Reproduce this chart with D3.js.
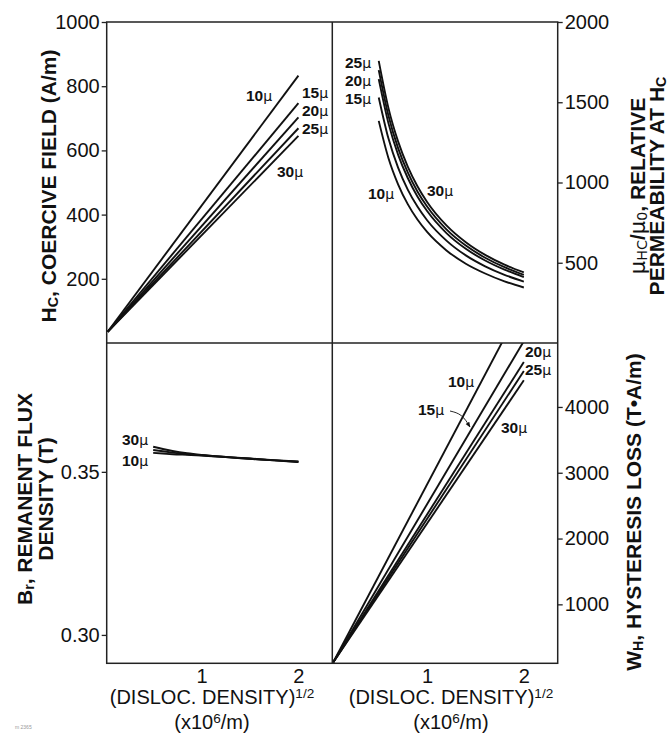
<!DOCTYPE html>
<html>
<head>
<meta charset="utf-8">
<script src="https://cdn.jsdelivr.net/npm/d3@7"></script>
<style>
  html, body { margin: 0; padding: 0; background: #fff; }
  svg { display: block; }
  text { font-family: "Liberation Sans", Arial, Helvetica, sans-serif; fill: #111; }
</style>
</head>
<body>
<svg id="chart" width="669" height="736"></svg>
<script>
// ---- data ----------------------------------------------------------------
// grain sizes shown in each panel
const grainSizes = ["10", "15", "20", "25", "30"];

// coercive field Hc (A/m): straight lines, values at the two ends
const hcX = [0.03, 2.0];
const hcValues = {
  "10": [35, 833],
  "15": [35, 747],
  "20": [35, 703],
  "25": [35, 669],
  "30": [35, 645]
};

// relative permeability at Hc
const muX = [0.5, 0.6, 0.7, 0.8, 0.9, 1.0, 1.2, 1.4, 1.6, 1.8, 2.0];
const muValues = {
  "10": [1384, 1153, 989, 865, 769, 692, 577, 494, 433, 384, 346],
  "15": [1530, 1275, 1093, 956, 850, 765, 638, 546, 478, 425, 383],
  "20": [1644, 1370, 1174, 1028, 913, 822, 685, 587, 514, 457, 411],
  "25": [1758, 1465, 1256, 1099, 977, 879, 733, 628, 549, 488, 440],
  "30": [1700, 1417, 1214, 1063, 944, 850, 708, 607, 531, 472, 425]
};

// remanent flux density Br (T)
const brX = [0.5, 0.6, 0.7, 0.85, 1.0, 1.25, 1.5, 1.75, 2.0];
const brValues = {
  "10": [0.3558, 0.3556, 0.3554, 0.3552, 0.3550, 0.3545, 0.3540, 0.3535, 0.3530],
  "20": [0.3567, 0.3563, 0.3559, 0.3554, 0.3551, 0.3545, 0.3540, 0.3535, 0.3531],
  "30": [0.3577, 0.3570, 0.3564, 0.3557, 0.3552, 0.3546, 0.3541, 0.3536, 0.3532]
};

// hysteresis loss Wh (T·A/m): straight lines, values at the two ends
const whX = [0.03, 2.0];
const whValues = {
  "10": [120, 5609],
  "15": [120, 5000],
  "20": [120, 4683],
  "25": [120, 4547],
  "30": [120, 4405]
};

// tick labels
const xTicks = [1, 2];
const hcTicks = [200, 400, 600, 800, 1000];
const muTicks = [500, 1000, 1500, 2000];
const brTicks = [0.30, 0.35];
const whTicks = [1000, 2000, 3000, 4000];

// ---- layout --------------------------------------------------------------
const L = 106.7, M = 332.3, R = 557.7;
const T = 22, H = 343, B = 663.3;

const svg = d3.select("#chart");

const xLeft = d3.scaleLinear().domain([0.02, 2.35]).range([L, M]);
const xRight = d3.scaleLinear().domain([0.02, 2.35]).range([M, R]);
const yHc = d3.scaleLinear().domain([0, 1000]).range([H, T]);
const yMu = d3.scaleLinear().domain([0, 2000]).range([H, T]);
const yBr = d3.scaleLinear().domain([0.2913, 0.3895]).range([B, H]);
const yWh = d3.scaleLinear().domain([104, 4972]).range([B, H]);

// clip regions for the four panels
const defs = svg.append("defs");
[["clipTL", L, T, M - L, H - T], ["clipTR", M, T, R - M, H - T],
 ["clipBL", L, H, M - L, B - H], ["clipBR", M, H, R - M, B - H]].forEach(([id, x, y, w, h]) => {
  defs.append("clipPath").attr("id", id).append("rect")
    .attr("x", x).attr("y", y).attr("width", w).attr("height", h);
});
defs.append("marker").attr("id", "arrow").attr("viewBox", "0 0 10 10")
  .attr("refX", 9).attr("refY", 5).attr("markerWidth", 6).attr("markerHeight", 6)
  .attr("orient", "auto")
  .append("path").attr("d", "M0,1 L10,5 L0,9 Z").attr("fill", "#111");

function drawSeries(xs, valuesBy, xScale, yScale, clipId, curve) {
  const line = d3.line().x(d => xScale(d[0])).y(d => yScale(d[1])).curve(curve);
  const g = svg.append("g").attr("clip-path", `url(#${clipId})`);
  Object.keys(valuesBy).forEach(k => {
    const pts = xs.map((x, i) => [x, valuesBy[k][i]]);
    g.append("path").attr("d", line(pts))
      .attr("fill", "none").attr("stroke", "#111").attr("stroke-width", 1.9);
  });
}

drawSeries(hcX, hcValues, xLeft, yHc, "clipTL", d3.curveLinear);
drawSeries(muX, muValues, xRight, yMu, "clipTR", d3.curveMonotoneX);
drawSeries(brX, brValues, xLeft, yBr, "clipBL", d3.curveMonotoneX);
drawSeries(whX, whValues, xRight, yWh, "clipBR", d3.curveLinear);

// ---- frame ----------------------------------------------------------------
const frame = svg.append("g").attr("fill", "none").attr("stroke", "#222").attr("stroke-width", 1.5);
frame.append("rect").attr("x", L).attr("y", T).attr("width", R - L).attr("height", B - T);
frame.append("line").attr("x1", M).attr("x2", M).attr("y1", T).attr("y2", B);
frame.append("line").attr("x1", L).attr("x2", R).attr("y1", H).attr("y2", H);

// ---- axes -----------------------------------------------------------------
function styleAxis(g) {
  g.select(".domain").remove();
  g.selectAll(".tick line").attr("stroke", "#222").attr("stroke-width", 1.3);
  g.selectAll(".tick text").attr("font-size", 20)
    .attr("font-family", "'Liberation Sans', Arial, sans-serif").attr("fill", "#111");
}

svg.append("g").attr("transform", `translate(${L},0)`)
  .call(d3.axisLeft(yHc).tickValues(hcTicks).tickFormat(d3.format("d")).tickSize(5).tickPadding(2))
  .call(styleAxis);
svg.append("g").attr("transform", `translate(${L},0)`)
  .call(d3.axisLeft(yBr).tickValues(brTicks).tickFormat(d3.format(".2f")).tickSize(5).tickPadding(2))
  .call(styleAxis);
svg.append("g").attr("transform", `translate(${R},0)`)
  .call(d3.axisRight(yMu).tickValues(muTicks).tickFormat(d3.format("d")).tickSize(5).tickPadding(2))
  .call(styleAxis);
svg.append("g").attr("transform", `translate(${R},0)`)
  .call(d3.axisRight(yWh).tickValues(whTicks).tickFormat(d3.format("d")).tickSize(5).tickPadding(2))
  .call(styleAxis);
svg.append("g").attr("transform", `translate(0,${B})`)
  .call(d3.axisBottom(xLeft).tickValues(xTicks).tickFormat(d3.format("d")).tickSize(0).tickPadding(6))
  .call(styleAxis);
svg.append("g").attr("transform", `translate(0,${B})`)
  .call(d3.axisBottom(xRight).tickValues(xTicks).tickFormat(d3.format("d")).tickSize(0).tickPadding(6))
  .call(styleAxis);

// ---- axis titles ----------------------------------------------------------
// parts: [text, kind] where kind is "n" normal, "sub", "sup", "mu" (light greek)
function richText(sel, parts, size) {
  parts.forEach(([t, kind]) => {
    const ts = sel.append("tspan").text(t);
    if (kind === "sub") ts.attr("font-size", size * 0.68).attr("baseline-shift", "-12%");
    if (kind === "sup") ts.attr("font-size", size * 0.68).attr("baseline-shift", "45%");
    if (kind === "mu") ts.attr("font-weight", "normal").attr("font-family", "'DejaVu Sans', sans-serif");
    if (kind === "musub") ts.attr("font-weight", "normal").attr("font-size", size * 0.68)
      .attr("font-family", "'DejaVu Sans', sans-serif").attr("baseline-shift", "-12%");
  });
}

function vTitle(x, y, parts, size, weight) {
  const t = svg.append("text")
    .attr("transform", `translate(${x},${y}) rotate(-90)`)
    .attr("text-anchor", "middle").attr("font-size", size).attr("font-weight", weight);
  richText(t, parts, size);
}

vTitle(56, 186, [["H", "n"], ["C", "sub"], [", COERCIVE FIELD (A/m)", "n"]], 21, "bold");
vTitle(32, 499, [["B", "n"], ["r", "sub"], [", REMANENT FLUX", "n"]], 21, "bold");
vTitle(53, 499, [["DENSITY (T)", "n"]], 21, "bold");
vTitle(645, 186, [["μ", "mu"], ["HC", "musub"], ["/", "n"], ["μ", "mu"], ["0", "musub"], [", RELATIVE", "n"]], 21, "bold");
vTitle(664, 186, [["PERMEABILITY AT H", "n"], ["C", "sub"]], 21, "bold");
vTitle(641, 512, [["W", "n"], ["H", "sub"], [", HYSTERESIS LOSS (T•A/m)", "n"]], 21, "bold");

function xTitle(cx) {
  const t1 = svg.append("text").attr("x", cx).attr("y", 704)
    .attr("text-anchor", "middle").attr("font-size", 20);
  richText(t1, [["(DISLOC. DENSITY)", "n"], ["1/2", "sup"]], 20);
  const t2 = svg.append("text").attr("x", cx).attr("y", 729)
    .attr("text-anchor", "middle").attr("font-size", 20);
  richText(t2, [["(x10", "n"], ["6", "sup"], ["/m)", "n"]], 20);
}
xTitle(212);
xTitle(451);

// ---- curve labels ---------------------------------------------------------
const curveLabels = [
  // top-left panel
  ["10", 246, 95, "start"], ["15", 302, 92.5, "start"], ["20", 302, 110.5, "start"],
  ["25", 302, 128.5, "start"], ["30", 277, 171.5, "start"],
  // top-right panel
  ["25", 345, 62, "start"], ["20", 345, 80, "start"], ["15", 345, 98, "start"],
  ["10", 368, 193, "start"], ["30", 427, 190, "start"],
  // bottom-left panel
  ["30", 122, 439, "start"], ["10", 122, 460.5, "start"],
  // bottom-right panel
  ["10", 448, 381.5, "start"], ["15", 418, 409, "start"], ["20", 525, 351.5, "start"],
  ["25", 525, 369.5, "start"], ["30", 501, 427, "start"]
];
curveLabels.forEach(([g, x, y, anchor]) => {
  const t = svg.append("text").attr("x", x).attr("y", y + 5.5)
    .attr("text-anchor", anchor).attr("font-size", 15.5).attr("font-weight", "bold");
  t.append("tspan").text(g);
  t.append("tspan").text("μ").attr("font-weight", "normal")
    .attr("font-family", "'DejaVu Sans', sans-serif").attr("font-size", 14);
});

// leader arrow from the 15μ label to its line in the loss panel
svg.append("path")
  .attr("d", d3.line().curve(d3.curveBasis)([[450, 411], [462, 414], [470, 427]]))
  .attr("fill", "none").attr("stroke", "#111").attr("stroke-width", 0.9)
  .attr("marker-end", "url(#arrow)");

// small figure code in the corner
svg.append("text").attr("x", 15).attr("y", 729).attr("font-size", 5).attr("fill", "#999")
  .style("fill", "#999").text("m 2365");
</script>
</body>
</html>
